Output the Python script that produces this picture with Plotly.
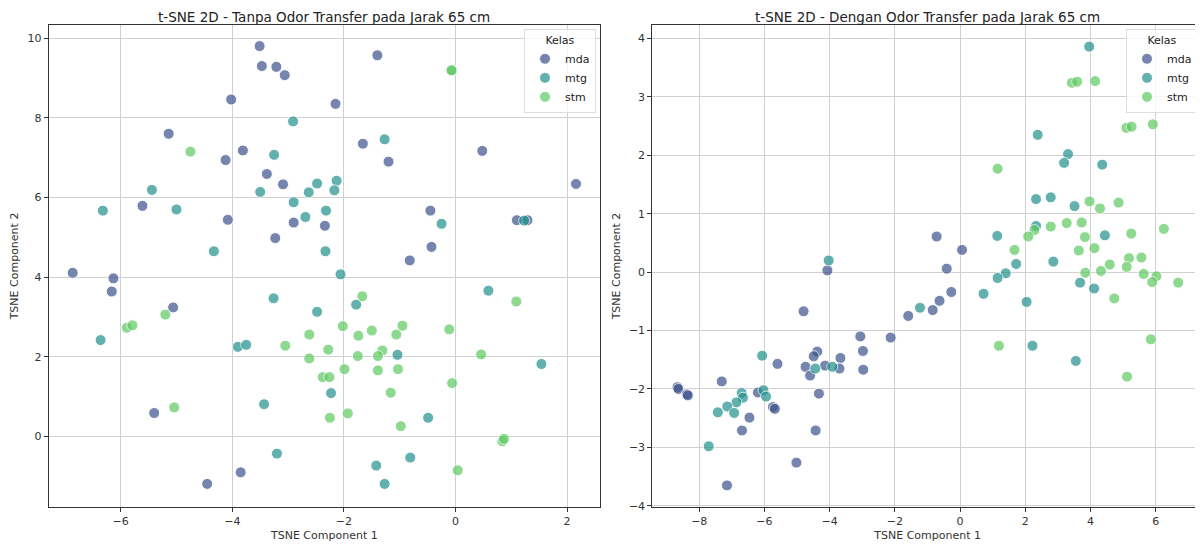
import plotly.graph_objects as go

# ---------------- data: left panel (Tanpa Odor Transfer) ----------------
classes = ["mda", "mtg", "stm"]
colors = {"mda": "#3b528b", "mtg": "#21918c", "stm": "#5ec962"}

tanpa_mda_x = [-3.51, -3.47, -3.21, -3.06, -1.40, -4.02, -2.15, -5.14, -3.81, -4.12, -1.66, -1.20, 0.48,
               -3.38, -3.09, -5.61, -4.08, -2.90, -3.23, -2.34, -0.45, -0.43, -0.82, 1.10, 1.29, 2.16,
               -6.86, -6.13, -6.16, -5.06, -5.40, -4.45, -3.85]
tanpa_mda_y = [9.80, 9.30, 9.28, 9.07, 9.57, 8.46, 8.35, 7.60, 7.18, 6.94, 7.35, 6.90, 7.17,
               6.59, 6.33, 5.79, 5.44, 5.37, 4.98, 5.29, 5.67, 4.76, 4.42, 5.43, 5.43, 6.34,
               4.11, 3.97, 3.64, 3.24, 0.59, -1.19, -0.90]

tanpa_mtg_x = [-2.91, -1.27, -3.25, -5.44, -6.32, -5.00, -3.50, -2.90, -2.63, -2.48, -2.13, -2.17, -2.69,
               -2.32, -0.25, -4.33, -2.33, -2.06, 1.23, -6.36, -3.26, -2.48, -1.78, -3.90, -3.75, -1.04,
               0.59, 1.54, -2.23, -3.43, -0.49, -3.20, -1.42, -0.81, -1.27]
tanpa_mtg_y = [7.91, 7.46, 7.07, 6.19, 5.67, 5.70, 6.14, 5.88, 6.13, 6.35, 6.42, 6.18, 5.51,
               5.67, 5.34, 4.65, 4.65, 4.07, 5.42, 2.42, 3.47, 3.13, 3.31, 2.25, 2.30, 2.05,
               3.66, 1.82, 1.09, 0.81, 0.47, -0.43, -0.73, -0.53, -1.19]

tanpa_stm_x = [-4.75, -0.07, -0.07, -5.89, -5.79, -5.20, -5.04, -3.05, -2.62, -2.62, -2.28, -2.02, -1.67,
               -1.74, -1.75, -1.50, -1.31, -1.39, -1.06, -0.95, -1.99, -1.39, -1.03, -2.38, -2.26, -1.16,
               -2.25, -1.93, -0.98, -0.11, 0.46, -0.06, 1.09, 0.84, 0.87, 0.04]
tanpa_stm_y = [7.15, 9.20, 9.19, 2.73, 2.79, 3.06, 0.73, 2.28, 2.56, 1.96, 2.18, 2.77, 3.52,
               2.53, 2.02, 2.66, 2.16, 2.02, 2.56, 2.78, 1.69, 1.66, 1.69, 1.49, 1.49, 1.10,
               0.47, 0.58, 0.26, 2.69, 2.06, 1.34, 3.39, -0.12, -0.06, -0.85]

# ---------------- data: right panel (Dengan Odor Transfer) ----------------
dengan_mda_x = [-0.72, 0.06, -0.41, -4.07, -0.27, -0.63, -0.84, -1.59, -2.13, -3.06, -2.98, -2.97, -3.67,
                -3.70, -4.14, -4.38, -4.49, -4.74, -4.60, -4.33, -4.43, -4.80, -5.60, -5.02, -7.15, -7.31,
                -8.67, -8.64, -8.38, -8.35, -6.46, -6.69, -5.74, -5.68, -6.20]
dengan_mda_y = [0.61, 0.38, 0.06, 0.03, -0.34, -0.49, -0.65, -0.75, -1.12, -1.10, -1.35, -1.67, -1.47,
                -1.65, -1.60, -1.36, -1.44, -1.62, -1.77, -2.08, -2.71, -0.67, -1.57, -3.26, -3.65, -1.87,
                -1.97, -2.00, -2.09, -2.11, -2.49, -2.71, -2.31, -2.34, -2.06]

dengan_mtg_x = [3.96, 2.38, 3.31, 3.19, 4.36, 2.33, 2.78, 3.51, 4.44, 1.14, 2.33, 2.86, 1.72, 1.40, 1.15,
                -4.03, -1.23, 0.72, 2.04, 2.22, 3.68, 4.11, 3.55, -6.07, -6.03, -5.95, -6.70, -6.66,
                -6.86, -7.14, -7.43, -6.93, -7.71, -4.44, -3.92]
dengan_mtg_y = [3.86, 2.35, 2.02, 1.87, 1.84, 1.25, 1.28, 1.13, 0.63, 0.62, 0.79, 0.18, 0.14, -0.02, -0.10,
                0.20, -0.61, -0.37, -0.51, -1.26, -0.18, -0.28, -1.52, -1.43, -2.02, -2.13, -2.07, -2.15,
                -2.23, -2.30, -2.40, -2.41, -2.98, -1.65, -1.62]

dengan_stm_x = [3.43, 3.59, 4.14, 5.10, 5.26, 5.91, 1.15, 3.97, 4.29, 4.86, 2.78, 3.27, 3.73, 2.28, 2.09,
                3.83, 5.25, 6.25, 1.67, 3.64, 4.12, 5.18, 5.56, 4.59, 5.11, 4.32, 3.84, 5.63, 6.02, 5.89,
                6.69, 4.73, 1.19, 5.85, 5.12]
dengan_stm_y = [3.24, 3.26, 3.27, 2.47, 2.49, 2.53, 1.77, 1.21, 1.09, 1.19, 0.78, 0.84, 0.85, 0.72, 0.61,
                0.60, 0.66, 0.74, 0.38, 0.37, 0.41, 0.24, 0.25, 0.13, 0.09, 0.02, -0.01, -0.03, -0.07, -0.17,
                -0.18, -0.45, -1.26, -1.15, -1.79]

titles = ["t-SNE 2D - Tanpa Odor Transfer pada Jarak 65 cm",
          "t-SNE 2D - Dengan Odor Transfer pada Jarak 65 cm"]
x_label = "TSNE Component 1"
y_label = "TSNE Component 2"
legend_title = "Kelas"

left_data = {"mda": (tanpa_mda_x, tanpa_mda_y), "mtg": (tanpa_mtg_x, tanpa_mtg_y),
             "stm": (tanpa_stm_x, tanpa_stm_y)}
right_data = {"mda": (dengan_mda_x, dengan_mda_y), "mtg": (dengan_mtg_x, dengan_mtg_y),
              "stm": (dengan_stm_x, dengan_stm_y)}

# The page body has an 8px default margin, so the figure is drawn 8px in from
# the top-left; all pixel positions below are screen positions minus 8.
OFF = 8
W, H = 1203 - OFF, 546 - OFF
FONT = "DejaVu Sans"
fig = go.Figure()

for c in classes:
    x, y = left_data[c]
    fig.add_trace(go.Scatter(x=x, y=y, mode="markers", name=c, legend="legend",
                             xaxis="x", yaxis="y",
                             marker=dict(size=11, color=colors[c], opacity=0.7,
                                         line=dict(width=1, color="white"))))
for c in classes:
    x, y = right_data[c]
    fig.add_trace(go.Scatter(x=x, y=y, mode="markers", name=c, legend="legend2",
                             xaxis="x2", yaxis="y2",
                             marker=dict(size=11, color=colors[c], opacity=0.7,
                                         line=dict(width=1, color="white"))))

# plot-area screen pixel positions
L1, R1 = 48.7 - OFF, 600.0 - OFF
L2 = 652.3 - OFF
TOP, BOT = 25.0 - OFF, 507.0 - OFF
ydom = [1 - BOT / H, 1 - TOP / H]

axis_common = dict(showgrid=True, gridcolor="#d0d0d0", gridwidth=1, zeroline=False,
                   showline=True, linecolor="#333333", linewidth=1, mirror=True,
                   ticks="outside", ticklen=4, tickcolor="#333333", automargin=False,
                   tickfont=dict(family=FONT, size=11, color="#333333"))

leg_common = dict(yanchor="top", y=1 - (29 - OFF) / H, xanchor="right",
                  bgcolor="rgba(255,255,255,0.8)", bordercolor="#dddddd", borderwidth=1,
                  font=dict(family=FONT, size=11, color="#222222"),
                  title=dict(text=legend_title, side="top center", font=dict(size=11)),
                  itemwidth=30, tracegroupgap=0)

fig.update_layout(
    width=W, height=H,
    margin=dict(l=0, r=0, t=0, b=0, autoexpand=False),
    paper_bgcolor="white", plot_bgcolor="white",
    font=dict(family=FONT, color="#333333"),
    xaxis=dict(domain=[L1 / W, R1 / W], range=[-7.29, 2.59], dtick=2, anchor="y",
               title=dict(text=x_label, font=dict(size=11), standoff=4), **axis_common),
    yaxis=dict(domain=ydom, range=[-1.77, 10.33], dtick=2, anchor="x",
               title=dict(text=y_label, font=dict(size=11), standoff=6), **axis_common),
    xaxis2=dict(domain=[L2 / W, 1.0], range=[-9.44, 7.45], dtick=2, anchor="y2",
                title=dict(text=x_label, font=dict(size=11), standoff=4), **axis_common),
    yaxis2=dict(domain=ydom, range=[-4.02, 4.23], dtick=1, anchor="x2",
                title=dict(text=y_label, font=dict(size=11), standoff=6), **axis_common),
    legend=dict(x=(596 - OFF) / W, **leg_common),
    legend2=dict(x=(1198 - OFF) / W, **leg_common),
    annotations=[
        dict(text=titles[0], x=(L1 + R1) / 2 / W, y=1.0, xref="paper", yref="paper",
             xanchor="center", yanchor="top", showarrow=False, borderpad=0,
             font=dict(family=FONT, size=13.5, color="#222222")),
        dict(text=titles[1], x=(L2 + W) / 2 / W, y=1.0, xref="paper", yref="paper",
             xanchor="center", yanchor="top", showarrow=False, borderpad=0,
             font=dict(family=FONT, size=13.5, color="#222222")),
    ],
)

fig.write_html("out.html")
